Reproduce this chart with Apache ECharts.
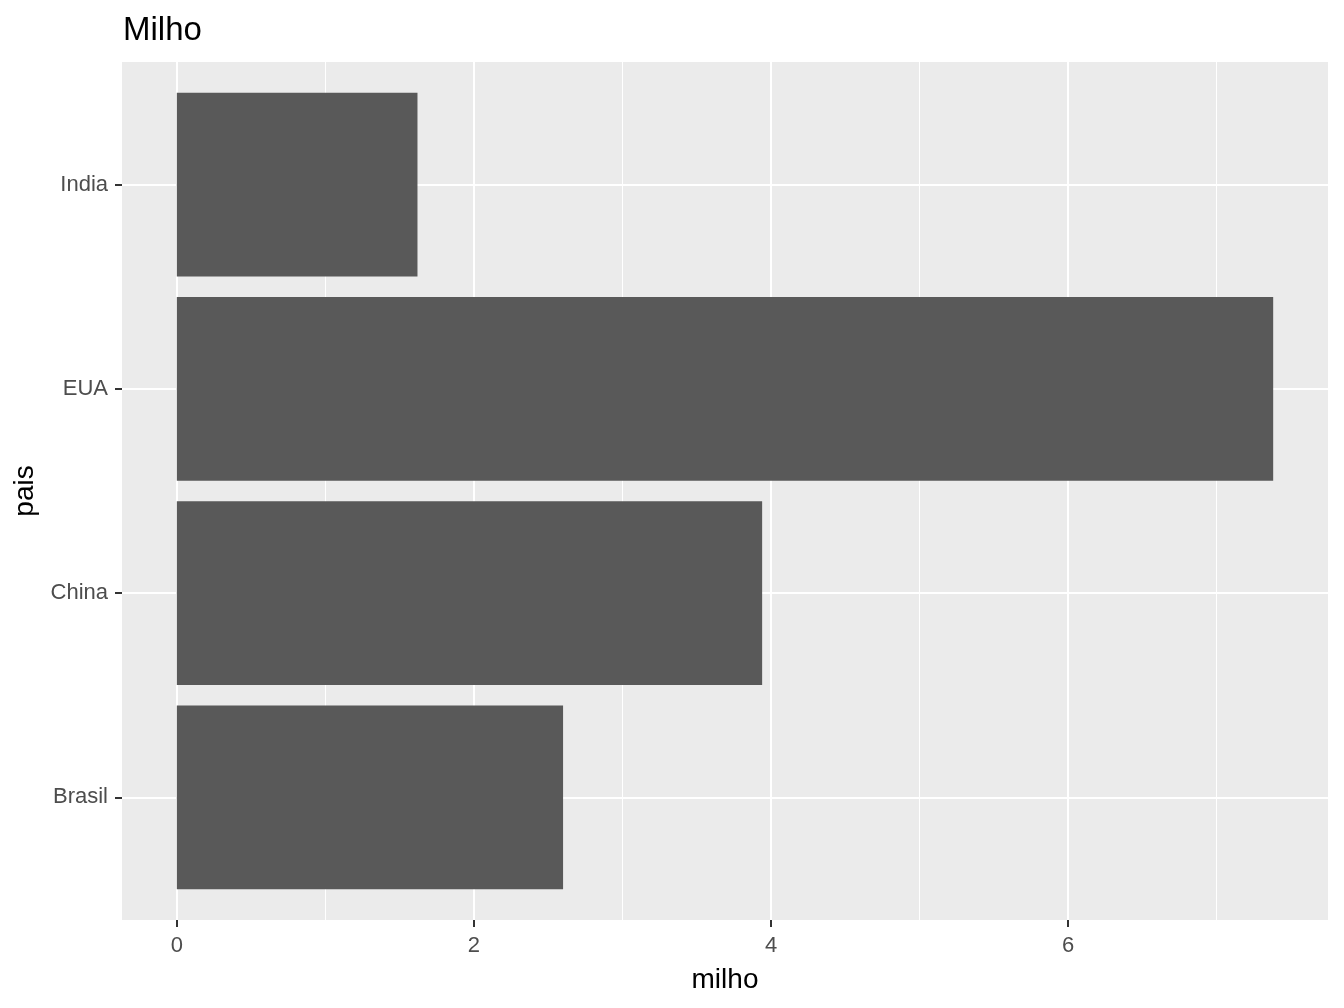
<!DOCTYPE html>
<html>
<head>
<meta charset="utf-8">
<script src="https://cdn.jsdelivr.net/npm/echarts@6/dist/echarts.min.js"></script>
<style>
html,body{margin:0;padding:0;background:#fff;}
#chart{width:1344px;height:1008px;}
</style>
</head>
<body>
<div id="chart"></div>
<script>
// Data
const categories = ['Brasil', 'China', 'EUA', 'India'];
const milho = [2.60, 3.94, 7.38, 1.62];
const xMajorTicks = [0, 2, 4, 6];
const xMinorTicks = [1, 3, 5, 7];
const categoryPositions = [1, 2, 3, 4];

const FONT = "'Liberation Sans', Arial, sans-serif";
const xMaxData = Math.max(...milho);
const xMin = -0.05 * xMaxData;
const xMax = xMaxData * 1.05;

const seriesData = milho.map((v, i) => [v, categoryPositions[i]]);

const chart = echarts.init(document.getElementById('chart'), null, {renderer: 'canvas'});
chart.setOption({
  backgroundColor: '#FFFFFF',
  animation: false,
  title: {
    text: 'Milho',
    left: 118,
    top: 9,
    textStyle: {fontFamily: FONT, fontSize: 33, fontWeight: 'normal', color: '#000000'}
  },
  grid: {
    left: 122, top: 62, width: 1206, height: 858,
    show: true, backgroundColor: '#EBEBEB', borderWidth: 0,
    containLabel: false
  },
  xAxis: [{
    type: 'value', min: xMin, max: xMax, position: 'bottom',
    name: 'milho', nameLocation: 'middle', nameGap: 46,
    nameTextStyle: {fontFamily: FONT, fontSize: 28, color: '#000000'},
    axisLine: {show: false, onZero: false},
    axisTick: {show: true, length: 7, customValues: xMajorTicks, lineStyle: {color: '#333333', width: 2}},
    axisLabel: {show: true, customValues: xMajorTicks, margin: 15, fontFamily: FONT, fontSize: 22, color: '#4D4D4D'},
    splitLine: {show: true, lineStyle: {color: '#FFFFFF', width: 2}}
  }, {
    type: 'value', min: xMin, max: xMax, position: 'bottom',
    axisLine: {show: false, onZero: false},
    axisTick: {show: false, customValues: xMinorTicks},
    axisLabel: {show: false, customValues: xMinorTicks},
    splitLine: {show: true, lineStyle: {color: '#FFFFFF', width: 1}}
  }],
  yAxis: {
    type: 'value', min: 0.4, max: 4.6, position: 'left',
    name: 'pais', nameLocation: 'middle', nameGap: 75, nameRotate: 90,
    nameTextStyle: {fontFamily: FONT, fontSize: 28, color: '#000000'},
    axisLine: {show: false, onZero: false},
    axisTick: {show: true, length: 7, customValues: categoryPositions, lineStyle: {color: '#333333', width: 2}},
    axisLabel: {show: true, customValues: categoryPositions, margin: 14, fontFamily: FONT, fontSize: 22, color: '#4D4D4D',
      padding: [4, 0, 0, 0],
      formatter: v => categories[Math.round(v) - 1] || ''},
    splitLine: {show: true, lineStyle: {color: '#FFFFFF', width: 2}}
  },
  series: [{
    type: 'custom',
    xAxisIndex: 0,
    yAxisIndex: 0,
    data: seriesData,
    encode: {x: 0, y: 1},
    renderItem: function (params, api) {
      const y = api.value(1);
      const p0 = api.coord([0, y]);
      const p1 = api.coord([api.value(0), y]);
      const h = api.size([0, 0.9])[1];
      return {
        type: 'rect',
        shape: {x: p0[0], y: p0[1] - h / 2, width: p1[0] - p0[0], height: h},
        style: {fill: '#595959'}
      };
    }
  }]
});
</script>
</body>
</html>
